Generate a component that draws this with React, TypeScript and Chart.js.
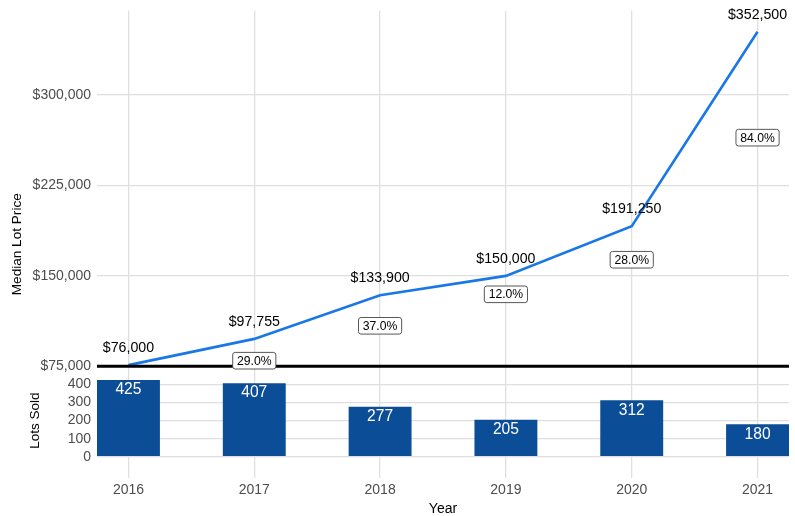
import React, { useEffect, useRef } from "react";
import { Chart, registerables } from "chart.js";

Chart.register(...registerables);

const FONT = "'Liberation Sans', Arial, Helvetica, sans-serif";

const years = [2016, 2017, 2018, 2019, 2020, 2021];
const medianLotPrice = [76000, 97755, 133900, 150000, 191250, 352500];
const priceLabels = ["$76,000", "$97,755", "$133,900", "$150,000", "$191,250", "$352,500"];
const growthLabels = ["", "29.0%", "37.0%", "12.0%", "28.0%", "84.0%"];
const lotsSold = [425, 407, 277, 205, 312, 180];
const priceTicks = [75000, 150000, 225000, 300000];
const lotTicks = [0, 100, 200, 300, 400];
const LOT_SCALE = 150; // dollars per lot on the shared vertical axis
const BASELINE = 75000;

const LINE_COLOR = "#1a77e6";
const BAR_COLOR = "#0c4d97";
const GRID_COLOR = "#dfdfdf";
const TICK_COLOR = "#4d4d4d";

function roundRectPath(ctx: CanvasRenderingContext2D, x: number, y: number, w: number, h: number, r: number) {
  ctx.beginPath();
  ctx.moveTo(x + r, y);
  ctx.lineTo(x + w - r, y);
  ctx.arcTo(x + w, y, x + w, y + r, r);
  ctx.lineTo(x + w, y + h - r);
  ctx.arcTo(x + w, y + h, x + w - r, y + h, r);
  ctx.lineTo(x + r, y + h);
  ctx.arcTo(x, y + h, x, y + h - r, r);
  ctx.lineTo(x, y + r);
  ctx.arcTo(x, y, x + r, y, r);
  ctx.closePath();
}

const overlayPlugin = {
  id: "overlay",
  afterDatasetsDraw(chart: any) {
    const { ctx, chartArea } = chart;
    const xs = chart.scales.x;
    const ys = chart.scales.y;
    ctx.save();

    // baseline at $75,000
    const by = ys.getPixelForValue(BASELINE);
    ctx.beginPath();
    ctx.moveTo(chartArea.left, by);
    ctx.lineTo(chartArea.right, by);
    ctx.lineWidth = 3;
    ctx.strokeStyle = "#000";
    ctx.stroke();

    ctx.textAlign = "center";
    ctx.textBaseline = "middle";

    // bar labels
    ctx.font = `15.6px ${FONT}`;
    ctx.fillStyle = "#ffffff";
    years.forEach((yr, i) => {
      const px = xs.getPixelForValue(yr);
      const py = ys.getPixelForValue(lotsSold[i] * LOT_SCALE);
      ctx.fillText(String(lotsSold[i]), px, py + 10);
    });

    // price labels
    ctx.font = `14.2px ${FONT}`;
    ctx.fillStyle = "#000000";
    years.forEach((yr, i) => {
      const px = xs.getPixelForValue(yr);
      const py = ys.getPixelForValue(medianLotPrice[i]);
      ctx.fillText(priceLabels[i], px, py - 17);
    });

    // growth label boxes (placed below the midpoint of each segment)
    ctx.font = `12.2px ${FONT}`;
    years.forEach((yr, i) => {
      if (i === 0 || !growthLabels[i]) return;
      const px = xs.getPixelForValue(yr);
      const mid = (medianLotPrice[i - 1] + medianLotPrice[i]) / 2;
      const py = ys.getPixelForValue(mid) + 8.7;
      const tw = ctx.measureText(growthLabels[i]).width;
      const w = tw + 8.6;
      const h = 16.6;
      roundRectPath(ctx, px - w / 2, py - h / 2, w, h, 2.5);
      ctx.fillStyle = "#ffffff";
      ctx.fill();
      ctx.lineWidth = 0.9;
      ctx.strokeStyle = "#444444";
      ctx.stroke();
      ctx.fillStyle = "#000000";
      ctx.fillText(growthLabels[i], px, py + 0.5);
    });

    // "Lots Sold" side label
    ctx.font = `13.5px ${FONT}`;
    ctx.fillStyle = "#000000";
    ctx.translate(35, ys.getPixelForValue(200 * LOT_SCALE));
    ctx.rotate(-Math.PI / 2);
    ctx.fillText("Lots Sold", 0, 0);

    ctx.restore();
  },
};

export default function App() {
  const canvasRef = useRef<HTMLCanvasElement | null>(null);

  useEffect(() => {
    if (!canvasRef.current) return;
    Chart.defaults.font.family = FONT;

    const yTop = Math.max(...medianLotPrice);
    const yPad = yTop * 0.05;

    const chart = new Chart(canvasRef.current, {
      type: "bar",
      data: {
        datasets: [
          {
            type: "line",
            label: "Median Lot Price",
            data: years.map((yr, i) => ({ x: yr, y: medianLotPrice[i] })),
            borderColor: LINE_COLOR,
            borderWidth: 2.6,
            pointRadius: 0,
            tension: 0,
            fill: false,
            order: 0,
          } as any,
          {
            type: "bar",
            label: "Lots Sold",
            data: years.map((yr, i) => ({ x: yr, y: lotsSold[i] * LOT_SCALE })),
            backgroundColor: BAR_COLOR,
            borderWidth: 0,
            categoryPercentage: 1,
            barPercentage: 0.5,
            order: 1,
          } as any,
        ],
      },
      options: {
        animation: false,
        responsive: false,
        maintainAspectRatio: false,
        layout: { padding: { top: 10.5, right: 6, left: 0, bottom: 0 } },
        plugins: {
          legend: { display: false },
          tooltip: { enabled: false },
        },
        scales: {
          x: {
            type: "linear",
            min: years[0] - 0.25,
            max: years[years.length - 1] + 0.25,
            offset: false,
            afterBuildTicks: (scale: any) => {
              scale.ticks = years.map((v) => ({ value: v }));
            },
            afterFit: (scale: any) => {
              scale.height = 38;
              scale.paddingLeft = 0;
              scale.paddingRight = 0;
            },
            grid: { color: GRID_COLOR, lineWidth: 1.3, drawTicks: false, offset: false },
            border: { display: false },
            ticks: {
              color: TICK_COLOR,
              font: { size: 14 },
              padding: 4,
              autoSkip: false,
              maxRotation: 0,
              callback: (v: any) => String(v),
            },
            title: {
              display: true,
              text: "Year",
              color: "#000000",
              font: { size: 14, lineHeight: 1 },
              padding: { top: 0, bottom: 0 },
            },
          },
          y: {
            type: "linear",
            min: -yPad,
            max: yTop + yPad,
            afterBuildTicks: (scale: any) => {
              scale.ticks = [...lotTicks.map((v) => v * LOT_SCALE), ...priceTicks].map((v) => ({ value: v }));
            },
            afterFit: (scale: any) => {
              scale.width = 97;
              scale.paddingTop = 0;
              scale.paddingBottom = 0;
            },
            grid: { color: GRID_COLOR, lineWidth: 1.3, drawTicks: false },
            border: { display: false },
            ticks: {
              color: TICK_COLOR,
              font: { size: 14 },
              padding: 6,
              autoSkip: false,
              callback: (v: any) =>
                v < BASELINE ? String(Math.round(v / LOT_SCALE)) : "$" + Number(v).toLocaleString("en-US"),
            },
            title: {
              display: true,
              text: "Median Lot Price",
              color: "#000000",
              font: { size: 13.6, lineHeight: 1 },
              padding: { top: 10.7, bottom: 0 },
            },
          },
        },
      } as any,
      plugins: [overlayPlugin],
    });

    return () => chart.destroy();
  }, []);

  return (
    <div style={{ position: "absolute", left: 0, top: 0, width: 795, height: 516, background: "#fff" }}>
      <canvas ref={canvasRef} width={795} height={516} style={{ display: "block" }} />
    </div>
  );
}
